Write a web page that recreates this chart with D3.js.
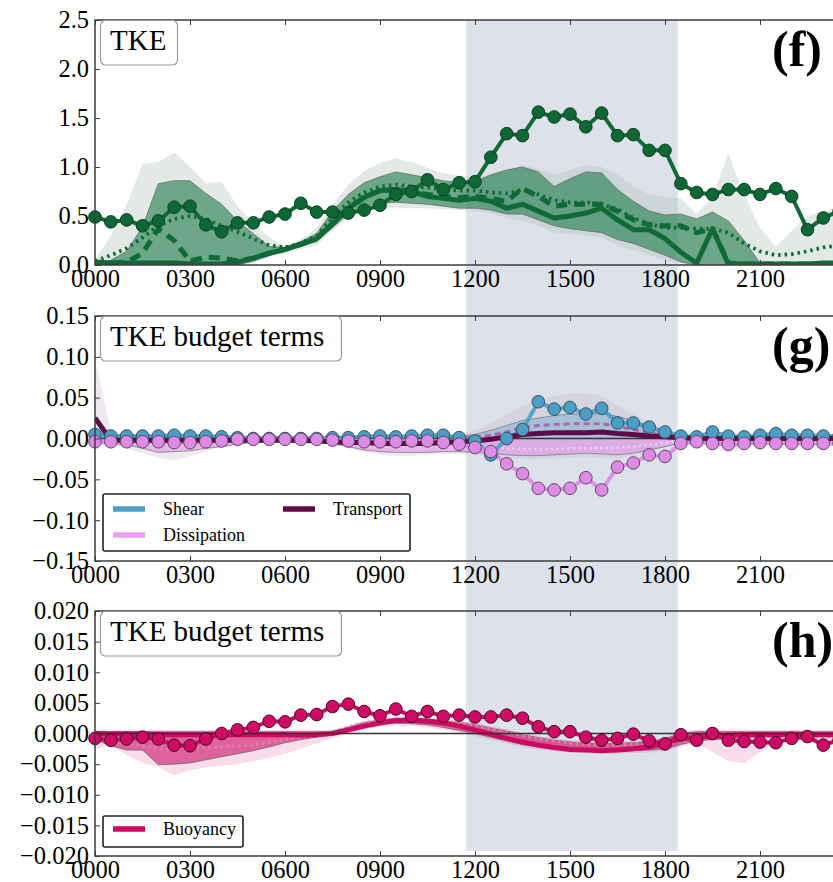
<!DOCTYPE html>
<html>
<head>
<meta charset="utf-8">
<script src="https://cdn.jsdelivr.net/npm/d3@7"></script>
<style>
  html, body { margin: 0; padding: 0; background: #fff; overflow: hidden; }
  svg { display: block; font-family: "Liberation Serif", "Times New Roman", serif; }
</style>
</head>
<body>
<svg id="chart" width="833" height="882"></svg>
<script>
// ---- time axis (half-hourly samples, local time in hours) ----
const hours = d3.range(0, 24, 0.5);
const xTickValues = [0, 3, 6, 9, 12, 15, 18, 21];
const daylight = [11.72, 18.40];

// ---- (f) TKE ----
const tkeTicks = [0, 0.5, 1.0, 1.5, 2.0, 2.5];
const tkeObs = [
  0.49, 0.44, 0.46, 0.40, 0.45, 0.59, 0.60, 0.41,
  0.34, 0.43, 0.43, 0.49, 0.52, 0.63, 0.54, 0.54,
  0.53, 0.56, 0.61, 0.72, 0.75, 0.87, 0.77, 0.84,
  0.85, 1.10, 1.34, 1.32, 1.56, 1.51, 1.54, 1.41,
  1.55, 1.32, 1.33, 1.17, 1.17, 0.83, 0.74, 0.72,
  0.77, 0.77, 0.72, 0.78, 0.70, 0.36, 0.48, 0.55];
const tkeSolid = [
  0.03, 0.02, 0.02, 0.02, 0.02, 0.02, 0.01, 0.01,
  0.01, 0.03, 0.07, 0.12, 0.16, 0.21, 0.27, 0.42,
  0.58, 0.69, 0.76, 0.77, 0.75, 0.70, 0.68, 0.66,
  0.68, 0.65, 0.58, 0.62, 0.55, 0.48, 0.50, 0.53,
  0.58, 0.46, 0.36, 0.36, 0.27, 0.13, 0.02, 0.37,
  0.01, 0.01, 0.01, 0.01, 0.01, 0.01, 0.02, 0.02];
const tkeDashed = [
  0.02, 0.02, 0.03, 0.12, 0.37, 0.25, 0.04, 0.08,
  0.07, 0.04, 0.07, 0.12, 0.16, 0.21, 0.27, 0.42,
  0.58, 0.69, 0.76, 0.77, 0.75, 0.72, 0.70, 0.69,
  0.70, 0.68, 0.65, 0.78, 0.70, 0.60, 0.62, 0.62,
  0.62, 0.55, 0.46, 0.41, 0.40, 0.40, 0.33, 0.37,
  0.02, 0.01, 0.01, 0.01, 0.01, 0.01, 0.01, 0.01];
const tkeDotted = [
  0.04, 0.10, 0.17, 0.28, 0.40, 0.47, 0.50, 0.47,
  0.40, 0.34, 0.27, 0.20, 0.18, 0.22, 0.30, 0.48,
  0.64, 0.74, 0.80, 0.82, 0.80, 0.79, 0.77, 0.76,
  0.76, 0.74, 0.73, 0.77, 0.72, 0.66, 0.64, 0.64,
  0.62, 0.57, 0.48, 0.42, 0.38, 0.38, 0.37, 0.37,
  0.33, 0.22, 0.14, 0.10, 0.11, 0.14, 0.18, 0.20];
const tkeInnerHi = [
  0.00, 0.05, 0.14, 0.39, 0.83, 0.86, 0.86, 0.73,
  0.62, 0.45, 0.32, 0.19, 0.18, 0.24, 0.32, 0.55,
  0.72, 0.84, 0.90, 0.95, 0.92, 0.89, 0.86, 0.84,
  0.85, 0.92, 0.97, 1.00, 0.95, 0.80, 0.88, 0.95,
  0.94, 0.77, 0.65, 0.55, 0.51, 0.52, 0.47, 0.54,
  0.45, 0.25, 0.02, 0.00, 0.00, 0.00, 0.00, 0.00];
const tkeInnerLo = [
  0, 0, 0, 0, 0, 0, 0, 0,
  0, 0, 0.04, 0.10, 0.14, 0.19, 0.24, 0.38,
  0.52, 0.60, 0.63, 0.64, 0.63, 0.62, 0.60, 0.58,
  0.58, 0.56, 0.52, 0.52, 0.46, 0.40, 0.37, 0.35,
  0.33, 0.26, 0.22, 0.16, 0.10, 0.03, 0, 0,
  0, 0, 0, 0, 0, 0, 0, 0];
const tkeOuterHi = [
  0.05, 0.30, 0.62, 1.03, 1.05, 1.15, 1.00, 0.84,
  0.85, 0.60, 0.43, 0.28, 0.19, 0.26, 0.38, 0.62,
  0.82, 0.96, 1.04, 1.09, 1.05, 0.99, 0.94, 0.91,
  0.90, 0.92, 0.96, 1.02, 0.98, 0.92, 0.97, 1.02,
  1.00, 0.92, 0.80, 0.72, 0.70, 0.68, 0.52, 0.70,
  1.14, 0.72, 0.38, 0.19, 0.35, 0.50, 0.55, 0.58];
const tkeOuterLo = [
  0, 0, 0, 0, 0, 0, 0, 0,
  0, 0, 0.02, 0.08, 0.12, 0.16, 0.20, 0.35,
  0.48, 0.55, 0.57, 0.58, 0.58, 0.58, 0.57, 0.56,
  0.55, 0.53, 0.48, 0.45, 0.40, 0.33, 0.32, 0.30,
  0.28, 0.20, 0.15, 0.10, 0.05, 0, 0, 0,
  0, 0, 0, 0, 0, 0, 0, 0];

// ---- (g) shear, dissipation, transport ----
const budgetTicks = [-0.15, -0.10, -0.05, 0.00, 0.05, 0.10, 0.15];
const shearObs = [
  0.005, 0.003, 0.003, 0.003, 0.003, 0.004, 0.003, 0.003,
  0.002, 0.001, 0.000, 0.000, 0.000, 0.000, 0.000, 0.001,
  0.001, 0.002, 0.003, 0.002, 0.003, 0.004, 0.004, 0.001,
  -0.003, -0.020, 0.000, 0.011, 0.045, 0.036, 0.038, 0.030,
  0.037, 0.019, 0.019, 0.014, 0.008, 0.003, 0.002, 0.008,
  0.003, 0.002, 0.004, 0.006, 0.004, 0.004, 0.003, 0.003];
const dissObs = [
  -0.004, -0.004, -0.004, -0.004, -0.004, -0.005, -0.005, -0.004,
  -0.003, -0.001, -0.001, -0.001, -0.001, -0.001, -0.001, -0.002,
  -0.003, -0.004, -0.004, -0.004, -0.003, -0.003, -0.005, -0.007,
  -0.011, -0.016, -0.031, -0.043, -0.061, -0.063, -0.061, -0.048,
  -0.063, -0.035, -0.030, -0.020, -0.022, -0.006, -0.004, -0.006,
  -0.007, -0.006, -0.005, -0.006, -0.006, -0.006, -0.006, -0.006];
const transport = [
  0.025, -0.002, -0.002, -0.002, -0.002, -0.002, -0.002, -0.002,
  -0.002, -0.002, -0.002, -0.002, -0.002, -0.002, -0.003, -0.004,
  -0.005, -0.005, -0.006, -0.006, -0.006, -0.006, -0.005, -0.004,
  -0.003, -0.001, 0.002, 0.005, 0.006, 0.007, 0.007, 0.007,
  0.008, 0.006, 0.005, 0.003, 0.002, 0.001, 0.000, 0.000,
  0.000, 0.000, 0.000, 0.000, 0.000, 0.000, 0.000, 0.000];
const shearModel = [
  0.003, 0.002, 0.002, 0.002, 0.002, 0.002, 0.002, 0.002,
  0.001, 0.001, 0.001, 0.001, 0.001, 0.001, 0.001, 0.001,
  0.001, 0.001, 0.001, 0.001, 0.001, 0.001, 0.001, 0.001,
  0.002, 0.004, 0.008, 0.014, 0.016, 0.017, 0.018, 0.018,
  0.018, 0.015, 0.011, 0.007, 0.003, 0.001, 0.001, 0.001,
  0.001, 0.001, 0.001, 0.001, 0.001, 0.001, 0.001, 0.001];
const shearBandHi = [
  0.004, 0.003, 0.003, 0.003, 0.003, 0.003, 0.003, 0.003,
  0.002, 0.002, 0.002, 0.002, 0.002, 0.002, 0.002, 0.002,
  0.002, 0.002, 0.002, 0.002, 0.002, 0.002, 0.002, 0.003,
  0.005, 0.010, 0.016, 0.022, 0.025, 0.028, 0.030, 0.030,
  0.031, 0.027, 0.022, 0.016, 0.008, 0.003, 0.002, 0.002,
  0.002, 0.002, 0.002, 0.002, 0.002, 0.002, 0.002, 0.002];
const dissModel = [
  -0.003, -0.004, -0.005, -0.006, -0.008, -0.008, -0.008, -0.007,
  -0.005, -0.004, -0.003, -0.002, -0.002, -0.002, -0.002, -0.003,
  -0.006, -0.008, -0.010, -0.011, -0.011, -0.011, -0.010, -0.010,
  -0.010, -0.011, -0.012, -0.013, -0.013, -0.013, -0.012, -0.012,
  -0.012, -0.011, -0.010, -0.008, -0.005, -0.003, -0.002, -0.003,
  -0.004, -0.003, -0.002, -0.002, -0.002, -0.002, -0.002, -0.002];
const dissBandLo = [
  -0.005, -0.006, -0.008, -0.012, -0.017, -0.016, -0.015, -0.012,
  -0.010, -0.007, -0.005, -0.004, -0.004, -0.004, -0.004, -0.006,
  -0.010, -0.014, -0.016, -0.017, -0.017, -0.017, -0.016, -0.016,
  -0.017, -0.018, -0.020, -0.021, -0.021, -0.020, -0.019, -0.018,
  -0.019, -0.020, -0.018, -0.014, -0.010, -0.005, -0.004, -0.006,
  -0.010, -0.008, -0.004, -0.003, -0.003, -0.003, -0.003, -0.003];
const budgetEnvHi = [
  0.095, 0.010, 0.004, 0.004, 0.004, 0.004, 0.004, 0.004,
  0.004, 0.004, 0.004, 0.004, 0.004, 0.004, 0.004, 0.004,
  0.004, 0.004, 0.004, 0.004, 0.004, 0.004, 0.004, 0.006,
  0.010, 0.018, 0.030, 0.040, 0.048, 0.052, 0.055, 0.055,
  0.052, 0.040, 0.030, 0.020, 0.012, 0.005, 0.004, 0.004,
  0.004, 0.004, 0.004, 0.004, 0.004, 0.004, 0.004, 0.004];
const budgetEnvLo = [
  -0.008, -0.010, -0.012, -0.018, -0.024, -0.027, -0.022, -0.016,
  -0.010, -0.007, -0.005, -0.005, -0.005, -0.005, -0.005, -0.007,
  -0.012, -0.017, -0.020, -0.021, -0.021, -0.020, -0.019, -0.019,
  -0.020, -0.022, -0.024, -0.025, -0.026, -0.025, -0.024, -0.023,
  -0.024, -0.025, -0.022, -0.017, -0.012, -0.007, -0.006, -0.010,
  -0.018, -0.012, -0.006, -0.005, -0.005, -0.005, -0.005, -0.005];

// ---- (h) buoyancy ----
const buoyTicks = [-0.020, -0.015, -0.010, -0.005, 0.000, 0.005, 0.010, 0.015, 0.020];
const buoyObs = [
  -0.0008, -0.0011, -0.0009, -0.0006, -0.0009, -0.0019, -0.0020, -0.0009,
  0.0000, 0.0006, 0.0010, 0.0020, 0.0019, 0.0030, 0.0031, 0.0044,
  0.0048, 0.0036, 0.0029, 0.0040, 0.0028, 0.0036, 0.0028, 0.0030,
  0.0027, 0.0027, 0.0030, 0.0025, 0.0011, 0.0003, 0.0003, -0.0006,
  -0.0011, -0.0008, -0.0001, -0.0012, -0.0017, -0.0002, -0.0011, 0.0000,
  -0.0011, -0.0013, -0.0014, -0.0015, -0.0008, -0.0005, -0.0019, -0.0010];
const buoyModel = [
  0.0000, -0.0001, -0.0001, -0.0001, -0.0002, -0.0002, -0.0002, -0.0002,
  -0.0002, -0.0002, -0.0002, -0.0002, -0.0002, -0.0003, -0.0002, 0.0000,
  0.0006, 0.0012, 0.0017, 0.0021, 0.0022, 0.0020, 0.0017, 0.0012,
  0.0006, -0.0001, -0.0008, -0.0014, -0.0019, -0.0023, -0.0026, -0.0027,
  -0.0028, -0.0027, -0.0025, -0.0022, -0.0015, -0.0009, -0.0006, -0.0004,
  -0.0003, -0.0002, -0.0002, -0.0002, -0.0002, -0.0002, -0.0002, -0.0002];
const buoyDotted = [
  -0.0010, -0.0012, -0.0015, -0.0020, -0.0024, -0.0026, -0.0024, -0.0023,
  -0.0022, -0.0020, -0.0018, -0.0014, -0.0010, -0.0006, -0.0003, 0.0002,
  0.0010, 0.0017, 0.0020, 0.0022, 0.0022, 0.0021, 0.0019, 0.0017,
  0.0013, 0.0008, 0.0003, -0.0003, -0.0008, -0.0012, -0.0015, -0.0017,
  -0.0018, -0.0018, -0.0017, -0.0016, -0.0015, -0.0012, -0.0008, -0.0005,
  -0.0005, -0.0005, -0.0005, -0.0005, -0.0005, -0.0005, -0.0005, -0.0005];
const buoyInnerHi = [
  0.0003, 0.0003, 0.0003, 0.0003, 0.0003, 0.0003, 0.0003, 0.0003,
  0.0003, 0.0003, 0.0003, 0.0003, 0.0003, 0.0003, 0.0003, 0.0003,
  0.0010, 0.0018, 0.0022, 0.0025, 0.0025, 0.0024, 0.0021, 0.0018,
  0.0014, 0.0009, 0.0004, -0.0002, -0.0007, -0.0011, -0.0014, -0.0016,
  -0.0017, -0.0016, -0.0015, -0.0013, -0.0009, 0.0001, 0.0003, 0.0003,
  0.0003, 0.0003, 0.0003, 0.0003, 0.0003, 0.0003, 0.0003, 0.0003];
const buoyInnerLo = [
  -0.0010, -0.0020, -0.0027, -0.0027, -0.0051, -0.0050, -0.0048, -0.0043,
  -0.0038, -0.0033, -0.0028, -0.0022, -0.0015, -0.0010, -0.0006, -0.0002,
  0.0004, 0.0010, 0.0015, 0.0017, 0.0016, 0.0014, 0.0010, 0.0005,
  0.0000, -0.0006, -0.0012, -0.0018, -0.0022, -0.0025, -0.0027, -0.0028,
  -0.0029, -0.0029, -0.0028, -0.0027, -0.0025, -0.0018, -0.0012, -0.0010,
  -0.0008, -0.0007, -0.0005, -0.0004, -0.0004, -0.0004, -0.0004, -0.0004];
const buoyOuterHi = [
  0.0006, 0.0006, 0.0006, 0.0006, 0.0006, 0.0006, 0.0006, 0.0006,
  0.0006, 0.0006, 0.0006, 0.0006, 0.0006, 0.0006, 0.0006, 0.0006,
  0.0013, 0.0021, 0.0025, 0.0028, 0.0028, 0.0027, 0.0024, 0.0021,
  0.0017, 0.0012, 0.0007, 0.0001, -0.0004, -0.0008, -0.0011, -0.0013,
  -0.0014, -0.0013, -0.0012, -0.0010, -0.0006, 0.0004, 0.0006, 0.0006,
  0.0006, 0.0006, 0.0006, 0.0006, 0.0006, 0.0006, 0.0006, 0.0006];
const buoyOuterLo = [
  -0.0025, -0.0020, -0.0035, -0.0048, -0.0055, -0.0068, -0.0060, -0.0055,
  -0.0053, -0.0050, -0.0045, -0.0040, -0.0033, -0.0025, -0.0016, -0.0008,
  0.0000, 0.0006, 0.0011, 0.0013, 0.0012, 0.0010, 0.0006, 0.0001,
  -0.0004, -0.0010, -0.0016, -0.0022, -0.0026, -0.0029, -0.0031, -0.0032,
  -0.0033, -0.0033, -0.0032, -0.0031, -0.0029, -0.0022, -0.0016, -0.0030,
  -0.0045, -0.0048, -0.0030, -0.0015, -0.0012, -0.0012, -0.0020, -0.0015];

// ---- layout ----
const svg = d3.select("#chart");
const plotLeft = 95, plotRight = 855, panelH = 245;
const x = d3.scaleLinear().domain([0, 24]).range([plotLeft, plotRight]);
const frameColor = "#3c3c3c";
const serif = "'Liberation Serif', 'Times New Roman', serif";

svg.append("rect").attr("width", 833).attr("height", 882).attr("fill", "#fff");

// daytime shading spanning all three panels
svg.append("rect")
  .attr("x", x(daylight[0])).attr("y", 20)
  .attr("width", x(daylight[1]) - x(daylight[0]))
  .attr("height", 831)
  .attr("fill", "#dde2ea");

function makePanel(id, top, domain) {
  const y = d3.scaleLinear().domain(domain).range([top + panelH, top]);
  const clipId = "clip-" + id;
  svg.append("clipPath").attr("id", clipId).append("rect")
    .attr("x", plotLeft).attr("y", top)
    .attr("width", plotRight - plotLeft).attr("height", panelH);
  const root = svg.append("g");
  const plot = root.append("g").attr("clip-path", `url(#${clipId})`);
  return { id, y, top, root, plot };
}

function band(p, lo, hi, fill, opacity, edge) {
  const area = d3.area()
    .x(h => x(h))
    .y0((h, i) => p.y(lo ? lo[i] : 0))
    .y1((h, i) => p.y(hi ? hi[i] : 0));
  p.plot.append("path").datum(hours)
    .attr("d", area)
    .attr("fill", fill).attr("fill-opacity", opacity)
    .attr("stroke", edge || "none").attr("stroke-width", edge ? 1 : 0)
    .attr("stroke-opacity", 0.75);
}

function series(p, vals, color, width, dash, opacity) {
  const line = d3.line().x(h => x(h)).y((h, i) => p.y(vals[i]));
  p.plot.append("path").datum(hours)
    .attr("d", line)
    .attr("fill", "none")
    .attr("stroke", color).attr("stroke-width", width)
    .attr("stroke-dasharray", dash || null)
    .attr("stroke-opacity", opacity == null ? 1 : opacity)
    .attr("stroke-linejoin", "round");
}

function markers(p, vals, fill, stroke) {
  p.root.append("g").selectAll("circle").data(vals).join("circle")
    .attr("cx", (d, i) => x(hours[i]))
    .attr("cy", d => p.y(d))
    .attr("r", 6.3)
    .attr("fill", fill)
    .attr("stroke", stroke).attr("stroke-width", 1);
}

function zeroLine(p) {
  p.plot.append("line")
    .attr("x1", plotLeft).attr("x2", plotRight)
    .attr("y1", p.y(0)).attr("y2", p.y(0))
    .attr("stroke", "#333").attr("stroke-width", 1.6);
}

function frame(p, yTicks, fmt, tag) {
  const g = p.root.append("g").attr("class", "axes");
  const yAxis = d3.axisLeft(p.y).tickValues(yTicks).tickFormat(d3.format(fmt))
    .tickSize(-5).tickSizeOuter(0).tickPadding(6);
  const ya = g.append("g").attr("transform", `translate(${plotLeft},0)`).call(yAxis);
  const xAxis = d3.axisBottom(x).tickValues(xTickValues)
    .tickFormat(h => d3.format("02d")(h) + "00")
    .tickSize(-5).tickSizeOuter(0).tickPadding(5);
  const xa = g.append("g").attr("transform", `translate(0,${p.top + panelH})`).call(xAxis);
  const xt = g.append("g").attr("transform", `translate(0,${p.top})`)
    .call(d3.axisTop(x).tickValues(xTickValues).tickFormat("").tickSize(-5).tickSizeOuter(0));
  [ya, xa, xt].forEach(a => {
    a.attr("font-family", serif);
    a.select(".domain").remove();
    a.selectAll(".tick line").attr("stroke", frameColor).attr("stroke-width", 1);
    a.selectAll("text").attr("fill", "#000").attr("font-size", 24.5)
      .attr("font-family", serif);
  });
  g.append("rect")
    .attr("x", plotLeft).attr("y", p.top)
    .attr("width", plotRight - plotLeft).attr("height", panelH)
    .attr("fill", "none").attr("stroke", frameColor).attr("stroke-width", 1.5);
  // panel letter
  g.append("text").attr("x", 772).attr("y", p.top + 46)
    .attr("font-size", 50).attr("font-weight", "bold").attr("fill", "#000")
    .text(tag);
}

function titleBox(p, label, w) {
  const g = p.root.append("g");
  g.append("rect").attr("x", 100.5).attr("y", p.top + 0.5)
    .attr("width", w).attr("height", 44.5).attr("rx", 5)
    .attr("fill", "#fff").attr("stroke", "#9a9a9a").attr("stroke-width", 1.2);
  g.append("text").attr("x", 110).attr("y", p.top + 29.5)
    .attr("font-size", 29).attr("fill", "#000").text(label);
}

function legendBox(p, entries, box) {
  const g = p.root.append("g");
  g.append("rect").attr("x", box.x).attr("y", box.y)
    .attr("width", box.w).attr("height", box.h).attr("rx", 2)
    .attr("fill", "#fff").attr("stroke", "#222").attr("stroke-width", 1.6);
  entries.forEach(e => {
    g.append("line").attr("x1", e.x).attr("x2", e.x + 32)
      .attr("y1", e.y).attr("y2", e.y)
      .attr("stroke", e.color).attr("stroke-width", 5.5);
    g.append("text").attr("x", e.x + 50).attr("y", e.y + 5.5)
      .attr("font-size", 18).attr("fill", "#000").text(e.label);
  });
}

// ---- (f) ----
const pf = makePanel("f", 20, [0, 2.5]);
const green = "#0f6a37";
band(pf, tkeOuterLo, tkeOuterHi, "#a8bfb0", 0.32, null);
band(pf, tkeInnerLo, tkeInnerHi, "#1d7a49", 0.6, "#666");
series(pf, tkeDotted, green, 3.8, "2.5,4");
series(pf, tkeDashed, green, 5, "11,7");
series(pf, tkeSolid, green, 5);
series(pf, tkeObs, green, 4);
markers(pf, tkeObs, "#0e6835", "#0b3d21");
frame(pf, tkeTicks, ".1f", "(f)");
titleBox(pf, "TKE", 77);

// ---- (g) ----
const pg = makePanel("g", 316, [-0.15, 0.15]);
band(pg, budgetEnvLo, budgetEnvHi, "#c9b9cd", 0.32, null);
band(pg, null, shearBandHi, "#4a9ec8", 0.35, "#777");
band(pg, dissBandLo, null, "#e08be8", 0.55, "#777");
series(pg, dissModel, "#f2c8f5", 2.5, "2.5,3");
series(pg, shearModel, "#a35aa5", 3, "6,4", 0.85);
zeroLine(pg);
series(pg, shearObs, "#4a9ec8", 4, null, 0.9);
markers(pg, shearObs, "#4b9fc7", "#34505e");
series(pg, dissObs, "#d98ae2", 4, null, 0.9);
markers(pg, dissObs, "#e08ae8", "#5a4a5e");
series(pg, transport, "#5e0b47", 5);
frame(pg, budgetTicks, ".2f", "(g)");
titleBox(pg, "TKE budget terms", 241);
legendBox(pg, [
  { x: 113, y: 509, color: "#4a9ec8", label: "Shear" },
  { x: 113, y: 535, color: "#e9a0f0", label: "Dissipation" },
  { x: 283, y: 509, color: "#5e0b47", label: "Transport" }
], { x: 103, y: 494, w: 307, h: 57 });

// ---- (h) ----
const ph = makePanel("h", 611, [-0.02, 0.02]);
const crimson = "#cc0a63";
band(ph, buoyOuterLo, buoyOuterHi, crimson, 0.14, null);
band(ph, buoyInnerLo, buoyInnerHi, crimson, 0.58, "#666");
series(ph, buoyDotted, "#e87aa8", 3.5, "2.5,3.5");
series(ph, buoyModel, crimson, 5);
zeroLine(ph);
series(ph, buoyObs, crimson, 4);
markers(ph, buoyObs, "#cf0b66", "#3e0a22");
frame(ph, buoyTicks, ".3f", "(h)");
titleBox(ph, "TKE budget terms", 241);
legendBox(ph, [
  { x: 113, y: 829, color: crimson, label: "Buoyancy" }
], { x: 103, y: 816, w: 140, h: 31 });
</script>
</body>
</html>
